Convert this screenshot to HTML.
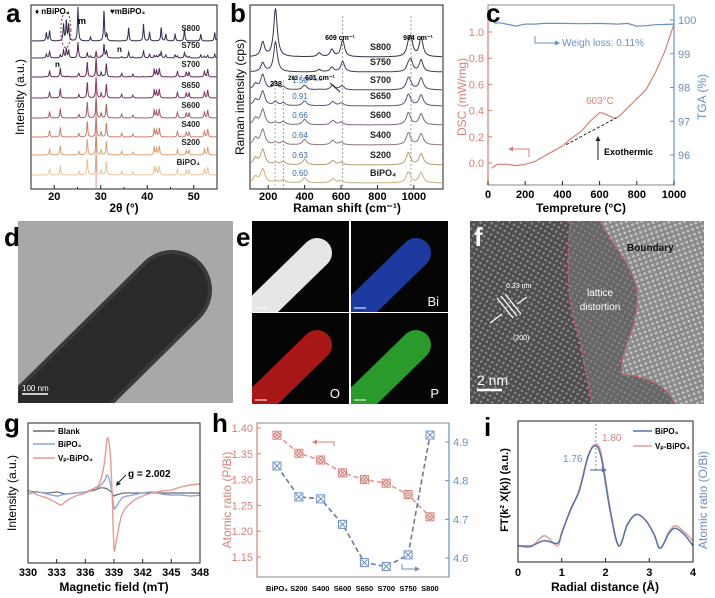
<!DOCTYPE html>
<html><head><meta charset="utf-8"><style>
html,body{margin:0;padding:0;background:#fff;}
svg{display:block;font-family:"Liberation Sans",sans-serif;}
</style></head><body>
<svg id="fig" width="715" height="598" viewBox="0 0 715 598" xmlns="http://www.w3.org/2000/svg">
<defs>
<pattern id="latA" width="5" height="5" patternUnits="userSpaceOnUse" patternTransform="rotate(30)"><rect width="5" height="5" fill="#4e4e4e"/><circle cx="2.5" cy="2.5" r="1.3" fill="#8a8a8a"/></pattern>
<pattern id="latB" width="5" height="5" patternUnits="userSpaceOnUse" patternTransform="rotate(30)"><rect width="5" height="5" fill="#666"/><circle cx="2.5" cy="2.5" r="1.2" fill="#858585"/></pattern>
<pattern id="latC" width="5" height="5" patternUnits="userSpaceOnUse" patternTransform="rotate(-20)"><rect width="5" height="5" fill="#8a8a8a"/><circle cx="2.5" cy="2.5" r="1.4" fill="#c4c4c4"/></pattern>
<clipPath id="clipD"><rect x="18" y="221" width="215" height="182"/></clipPath>
<clipPath id="clipF"><rect x="470" y="221" width="234" height="183"/></clipPath>
</defs>
<g id="root"></g>
</svg>
<script>
// ---------- DATA ----------
// panel a (XRD)
const xrdSamples = ["S800","S750","S700","S650","S600","S400","S200","BiPO₄"];
const xrdMonoPos = [19.0,21.3,25.3,27.1,29.0,30.1,31.2,34.5,36.9,41.5,42.0,42.6,46.5,48.4,49.0,52.3,53.0];
const xrdMonoH   = [0.30,0.45,0.18,0.80,1.00,0.25,0.70,0.20,0.15,0.40,0.35,0.45,0.30,0.25,0.25,0.30,0.40];
const xrdHexPos  = [18.3,19.0,22.0,22.6,23.1,25.1,27.8,30.7,31.3,36.0,39.2,40.5,43.0,44.0,46.0,48.0,51.5,54.5];
const xrdHexH    = [0.25,0.30,0.50,0.60,0.50,1.00,0.12,0.90,0.20,0.40,0.50,0.25,0.40,0.20,0.20,0.35,0.20,0.25];
const xrdHexFrac = [1.0,0.7,0.05,0,0,0,0,0];
const xrdScale   = [34,22,20,20,20,20,20,20];
// panel b (Raman)
const ramSamples = ["S800","S750","S700","S650","S600","S400","S200","BiPO₄"];
const ramRatios  = ["","","1.50","0.91","0.66","0.64","0.63","0.60"];
const ramMonoPos = [130,170,240,283,400,555,600,970,1040];
const ramMonoH   = [0.30,0.70,0.10,0.15,0.25,0.20,0.12,0.55,0.50];
const ramHexPos  = [170,240,480,550,609,970,984,1040];
const ramHexH    = [0.30,1.00,0.08,0.15,0.35,0.20,0.35,0.40];
const ramHexFrac = [1.0,1.0,0.25,0.1,0,0,0,0];
const ramScale   = [48,30,25,22,22,22,22,20];
// panel c (DSC/TGA)
const dscT   = [20,50,100,150,200,250,300,350,400,450,500,550,600,620,650,680,700,750,800,850,900,950,1000];
const dscVal = [-0.04,-0.01,-0.01,-0.02,-0.01,0.01,0.05,0.09,0.13,0.19,0.24,0.32,0.385,0.38,0.36,0.34,0.35,0.42,0.49,0.56,0.69,0.85,1.06];
const tgaT   = [20,40,60,100,150,200,250,300,400,500,600,700,750,800,850,900,1000];
const tgaVal = [100.0,99.9,99.92,99.88,99.82,99.88,99.88,99.9,99.9,99.89,99.9,99.88,99.9,99.82,99.83,99.86,99.88];
// panel g (EPR)
const eprB     = [330,331,332,333,333.5,334,335,336,337,337.5,338,338.3,338.6,338.8,339,339.2,339.6,340,341,342,343,344,345,346,347,348];
const eprVp    = [3,-2,-5,-10,-12,-8,-3,0,5,10,30,55,40,0,-55,-50,-30,-18,-8,-3,0,2,3,6,8,9];
const eprBi    = [-1,1,-1,-3,-2,-1,0,1,5,7,12,18,10,0,-15,-14,-8,-4,-2,0,1,-1,-2,-2,-3,-2];
const eprBlank = [2,1,0,1,0,-1,0,1,3,5,5,4,2,0,-3,-2,-1,0,0,0,0,0,0,0,0,0];
// panel h (atomic ratios)
const hCats  = ["BiPO₄","S200","S400","S600","S650","S700","S750","S800"];
const hPBi   = [1.386,1.351,1.338,1.313,1.300,1.293,1.271,1.228];
const hOBi   = [4.838,4.758,4.753,4.687,4.588,4.578,4.608,4.918];
const hLeftTicks  = [1.15,1.20,1.25,1.30,1.35,1.40];
const hRightTicks = [4.6,4.7,4.8,4.9];
// panel i (EXAFS)
const exR     = [0,0.3,0.6,0.9,1.0,1.2,1.4,1.6,1.76,1.9,2.1,2.3,2.5,2.7,2.9,3.1,3.25,3.45,3.6,3.8,4.0];
const exBi    = [0.05,0.05,0.09,0.07,0.15,0.34,0.49,0.76,0.85,0.76,0.34,0.05,0.22,0.30,0.26,0.15,0.03,0.15,0.19,0.14,0.05];
const exVp    = [0.05,0.04,0.13,0.05,0.16,0.33,0.50,0.77,0.86,0.79,0.36,0.05,0.22,0.30,0.26,0.15,0.03,0.16,0.21,0.16,0.09];

// ---------- HELPERS ----------
const NS="http://www.w3.org/2000/svg";
const root=document.getElementById('root');
function mk(tag,attrs,parent){const e=document.createElementNS(NS,tag);for(const k in attrs)e.setAttribute(k,attrs[k]);(parent||root).appendChild(e);return e;}
function txt(x,y,s,attrs,parent){const a=Object.assign({x:x,y:y},attrs||{});const e=mk('text',a,parent);e.textContent=s;return e;}
function lin(a,b,c,d){return v=>c+(v-a)*(d-c)/(b-a);}
function pathOf(xs,ys,fx,fy){return xs.map((x,i)=>(i?'L':'M')+fx(x).toFixed(1)+','+fy(ys[i]).toFixed(1)).join('');}
function smooth(xs,ys,fx,fy){const P=xs.map((x,i)=>[fx(x),fy(ys[i])]);let d='M'+P[0][0]+','+P[0][1];for(let i=0;i<P.length-1;i++){const p0=P[i-1]||P[i],p1=P[i],p2=P[i+1],p3=P[i+2]||P[i+1];d+='C'+(p1[0]+(p2[0]-p0[0])/6).toFixed(1)+','+(p1[1]+(p2[1]-p0[1])/6).toFixed(1)+' '+(p2[0]-(p3[0]-p1[0])/6).toFixed(1)+','+(p2[1]-(p3[1]-p1[1])/6).toFixed(1)+' '+p2[0].toFixed(1)+','+p2[1].toFixed(1);}return d;}
function lor(x,pos,h,w){let s=0;for(let i=0;i<pos.length;i++){const d=(x-pos[i])/w;s+=h[i]/(1+d*d);}return s;}
function panelLabel(x,y,s,name,fill){const t=txt(x,y,s,{'font-size':26,'font-weight':'bold',fill:fill||'#000'});return t;}

// ---------- PANEL A ----------
(function(){
const g=mk('g',{});
const fx=lin(15,55,31,217);
const base=[41,58,77,98,118,137,155,175];
const cols=["#2f2b4a","#4a2c52","#62285a","#7c3560","#a65a6e","#c9806e","#dea274","#ecc39a"];
for(let s=xrdSamples.length-1;s>=0;s--){
  const xs=[],ys=[];
  for(let x=15.2;x<=54.9;x+=0.06){const v=(1-xrdHexFrac[s])*lor(x,xrdMonoPos,xrdMonoH,0.12)+xrdHexFrac[s]*lor(x,xrdHexPos,xrdHexH,0.12);xs.push(x);ys.push(Math.min(v,1.9));}
  const p=mk('path',{d:pathOf(xs,ys,fx,v=>base[s]-v*xrdScale[s]),fill:'none',stroke:cols[s],'stroke-width':1},g);
  
  const l=txt(200,base[s]-10,xrdSamples[s],{'font-size':8,'font-weight':'bold','text-anchor':'end',fill:'#222'},g);
  
}
mk('line',{x1:fx(29),x2:fx(29),y1:50,y2:188,stroke:'#c0504d','stroke-width':1,opacity:0.6},g);
mk('ellipse',{cx:fx(22.5),cy:30,rx:5,ry:18,fill:'none',stroke:'#a03050','stroke-dasharray':'2,2','stroke-width':1},g);
txt(35,14,'♦ nBiPO₄',{'font-size':8,'font-weight':'bold'},g);
txt(110,14,'♥mBiPO₄',{'font-size':8,'font-weight':'bold'},g);
txt(78,24,'m',{'font-size':9,'font-weight':'bold'},g);
txt(117,52,'n',{'font-size':8,'font-weight':'bold'},g);
txt(55,67,'n',{'font-size':8,'font-weight':'bold'},g);
const fr=mk('rect',{x:31,y:5,width:186,height:184,fill:'none',stroke:'#222','stroke-width':1},g);
[20,30,40,50].forEach(t=>{mk('line',{x1:fx(t),x2:fx(t),y1:189,y2:185,stroke:'#222'},g);const tl=txt(fx(t),200,t,{'font-size':11,'font-weight':'bold','text-anchor':'middle'},g);});
[15,25,35,45,55].forEach(t=>mk('line',{x1:fx(t),x2:fx(t),y1:189,y2:187,stroke:'#222'},g));
const xt=txt(124,212,'2θ (°)',{'font-size':12,'font-weight':'bold','text-anchor':'middle'},g);
const yt=txt(0,0,'Intensity (a.u.)',{'font-size':12,'text-anchor':'middle',transform:'translate(24,97) rotate(-90)'},g);
panelLabel(6,22,'a','panel-label-a');
})();

// ---------- PANEL B ----------
(function(){
const g=mk('g',{});
const fx=lin(100,1160,250,443);
const base=[57,72,90,106,125,145,165,183];
const cols=["#34344a","#40405a","#4a4a66","#5a5878","#7a6a80","#8a7a78","#b0a070","#c8b080"];
[[238,'#7a9cc0'],[283,'#d07a50'],[609,'#888'],[984,'#888']].forEach(a=>mk('line',{x1:fx(a[0]),x2:fx(a[0]),y1:a[0]>500?16:80,y2:189,stroke:a[1],'stroke-dasharray':'2,2','stroke-width':0.8},g));
for(let s=0;s<ramSamples.length;s++){
  const xs=[],ys=[];
  for(let x=105;x<=1155;x+=3){const v=(1-ramHexFrac[s])*lor(x,ramMonoPos,ramMonoH,14)+ramHexFrac[s]*lor(x,ramHexPos,ramHexH,12);xs.push(x);ys.push(v);}
  const p=mk('path',{d:pathOf(xs,ys,fx,v=>base[s]-v*ramScale[s]),fill:'none',stroke:cols[s],'stroke-width':1},g);
  
  const l=txt(370,base[s]-7,ramSamples[s],{'font-size':9,'font-weight':'bold',fill:'#222'},g);
  
  if(ramRatios[s]){const r=txt(300,base[s]-7,ramRatios[s],{'font-size':8,fill:'#3a6aa8','text-anchor':'middle'},g);}
}
txt(340,40,'609 cm⁻¹',{'font-size':7,'font-weight':'bold','text-anchor':'middle'},g);
txt(418,40,'984 cm⁻¹',{'font-size':7,'font-weight':'bold','text-anchor':'middle'},g);
txt(276,86,'238',{'font-size':7,'font-weight':'bold','text-anchor':'middle'},g);
txt(293,80,'283',{'font-size':6,'font-weight':'bold','text-anchor':'middle'},g);
txt(300,80,'I₂₃₈/I₂₈₃',{'font-size':7,fill:'#3a6aa8','font-style':'italic'},g);
txt(320,80,'601 cm⁻¹',{'font-size':7,'font-weight':'bold','text-anchor':'middle'},g);
mk('line',{x1:330,y1:83,x2:340,y2:92,stroke:'#222'},g);
const fr=mk('rect',{x:250,y:5,width:193,height:184,fill:'none',stroke:'#222'},g);
[200,400,600,800,1000].forEach(t=>{mk('line',{x1:fx(t),x2:fx(t),y1:189,y2:185,stroke:'#222'},g);const tl=txt(fx(t),200,t,{'font-size':11,'font-weight':'bold','text-anchor':'middle'},g);});
const xt=txt(347,212,'Raman shift (cm⁻¹)',{'font-size':12,'font-weight':'bold','text-anchor':'middle'},g);
const yt=txt(0,0,'Raman intensity (cps)',{'font-size':12,'text-anchor':'middle',transform:'translate(244,97) rotate(-90)'},g);
panelLabel(230,22,'b','panel-label-b');
})();

// ---------- PANEL C ----------
(function(){
const g=mk('g',{});
const fx=lin(0,1000,488,674), fyL=lin(0,1,163,32), fyR=lin(96,100,155,20);
const red='#d4827a', blue='#6c8fc4';
const d1=mk('path',{d:pathOf(dscT,dscVal,fx,fyL),fill:'none',stroke:red,'stroke-width':1.2},g);
const d2=mk('path',{d:pathOf(tgaT,tgaVal,fx,fyR),fill:'none',stroke:blue,'stroke-width':1.2},g);
mk('line',{x1:fx(420),y1:fyL(0.14),x2:fx(690),y2:fyL(0.345),stroke:'#222','stroke-dasharray':'3,2'},g);
mk('path',{d:'M488,5 H674 V185 H488 Z',fill:'none',stroke:'#888'},g);
mk('line',{x1:488,y1:5,x2:488,y2:185,stroke:red,'stroke-width':1.2},g);
mk('line',{x1:674,y1:5,x2:674,y2:185,stroke:blue,'stroke-width':1.2},g);
[0,0.2,0.4,0.6,0.8,1.0].forEach(t=>{mk('line',{x1:488,x2:492,y1:fyL(t),y2:fyL(t),stroke:red},g);const tl=txt(484,fyL(t)+4,t.toFixed(1),{'font-size':11,fill:red,'text-anchor':'end'},g);});
[96,97,98,99,100].forEach(t=>{mk('line',{x1:670,x2:674,y1:fyR(t),y2:fyR(t),stroke:blue},g);const tl=txt(678,fyR(t)+4,t,{'font-size':11,fill:blue},g);});
[0,200,400,600,800,1000].forEach(t=>{mk('line',{x1:fx(t),x2:fx(t),y1:185,y2:181,stroke:'#222'},g);const tl=txt(fx(t),198,t,{'font-size':11,'font-weight':'bold','text-anchor':'middle'},g);});
const xt=txt(581,212,'Tempreture (°C)',{'font-size':12,'font-weight':'bold','text-anchor':'middle'},g);
const yl=txt(0,0,'DSC (mW/mg)',{'font-size':12,fill:red,'text-anchor':'middle',transform:'translate(466,97) rotate(-90)'},g);
const yr=txt(0,0,'TGA (%)',{'font-size':12,fill:blue,'text-anchor':'middle',transform:'translate(706,97) rotate(-90)'},g);
txt(562,46,'Weigh loss: 0.11%',{'font-size':10,fill:blue},g);
mk('path',{d:'M535,36 V43 H556',fill:'none',stroke:blue},g);mk('path',{d:'M560,43 l-5,-2.5 v5 z',fill:blue},g);
txt(586,104,'603°C',{'font-size':10,fill:red},g);
txt(604,155,'Exothermic',{'font-size':9,'font-weight':'bold'},g);
mk('line',{x1:598,y1:160,x2:598,y2:140,stroke:'#222'},g);mk('path',{d:'M598,136 l-2.5,5 h5 z',fill:'#222'},g);
mk('path',{d:'M529,157 V149 H512',fill:'none',stroke:red},g);mk('path',{d:'M508,149 l5,-2.5 v5 z',fill:red},g);
panelLabel(486,22,'c','panel-label-c');
})();

// ---------- PANEL D ----------
(function(){
const g=mk('g',{'clip-path':'url(#clipD)'});
mk('rect',{x:18,y:221,width:215,height:182,fill:'#a8a8a8'},g);
mk('line',{x1:10,y1:450,x2:172,y2:290,stroke:'#3a3a3a','stroke-width':80,'stroke-linecap':'round'},g);
mk('line',{x1:10,y1:450,x2:172,y2:290,stroke:'#2a2a2a','stroke-width':72,'stroke-linecap':'round'},g);
mk('line',{x1:22,y1:394,x2:48,y2:394,stroke:'#fff','stroke-width':1.5},g);
txt(22,391,'100 nm',{'font-size':8,fill:'#fff'},g);
panelLabel(4,246,'d','panel-label-d');
})();

// ---------- PANEL E ----------
(function(){
const g=mk('g',{});
const tiles=[[252,221,'#e6e6e6',''],[351,221,'#1c3aa0','Bi'],[252,313,'#a81818','O'],[351,313,'#2a9a2a','P']];
tiles.forEach((t,i)=>{
  const cp=mk('clipPath',{id:'ce'+i},document.querySelector('defs'));mk('rect',{x:t[0],y:t[1],width:97,height:91},cp);
  const tg=mk('g',{'clip-path':'url(#ce'+i+')'},g);
  mk('rect',{x:t[0],y:t[1],width:97,height:91,fill:'#050505'},tg);
  mk('line',{x1:t[0]-20,y1:t[1]+115,x2:t[0]+65,y2:t[1]+32,stroke:t[2],'stroke-width':30,'stroke-linecap':'round'},tg);
  if(t[3])txt(t[0]+88,t[1]+85,t[3],{'font-size':13,fill:'#fff','text-anchor':'end'},tg);
  mk('line',{x1:t[0]+3,y1:t[1]+87,x2:t[0]+15,y2:t[1]+87,stroke:'#fff'},tg);
});
panelLabel(236,246,'e','panel-label-e');
})();

// ---------- PANEL F ----------
(function(){
const g=mk('g',{'clip-path':'url(#clipF)'});
mk('rect',{x:470,y:221,width:234,height:183,fill:'url(#latA)'},g);
mk('path',{d:'M570,221 C568,260 565,300 580,340 C585,370 590,390 592,404 L704,404 V221 Z',fill:'url(#latB)'},g);
mk('path',{d:'M600,221 C615,250 630,260 637,290 C640,330 618,350 622,375 C650,375 670,390 675,404 L704,404 V221 Z',fill:'url(#latC)'},g);
mk('path',{d:'M570,221 C568,260 565,300 580,340 C585,370 590,390 592,404',fill:'none',stroke:'#d05a6a','stroke-dasharray':'3,1.5','stroke-width':1.4},g);
mk('path',{d:'M600,221 C615,250 630,260 637,290 C640,330 618,350 622,375 C650,375 670,390 675,404',fill:'none',stroke:'#d05a6a','stroke-dasharray':'3,1.5','stroke-width':1.4},g);
txt(627,251,'Boundary',{'font-size':10,'font-weight':'bold',fill:'#111'},g);
txt(600,296,'lattice',{'font-size':10,fill:'#fff','text-anchor':'middle'},g);
txt(600,310,'distortion',{'font-size':10,fill:'#fff','text-anchor':'middle'},g);
txt(506,288,'0.33 nm',{'font-size':7,fill:'#fff'},g);
txt(513,340,'(200)',{'font-size':7,fill:'#fff'},g);
mk('path',{d:'M497,298 L513,318 M501,296 L517,316 M505,294 L521,314 M490,323 L502,314 M527,297 L517,304',stroke:'#fff','stroke-width':1.2,fill:'none'},g);
txt(477,385,'2 nm',{'font-size':14,fill:'#fff'},g);
mk('line',{x1:477,y1:390,x2:502,y2:390,stroke:'#fff','stroke-width':2.5},g);
panelLabel(474,246,'f','panel-label-f','#fff');
})();

// ---------- PANEL G ----------
(function(){
const g=mk('g',{});
const fx=lin(330,348,28,200), fy=v=>493-v;
const c1=mk('path',{d:smooth(eprB,eprBlank,fx,fy),fill:'none',stroke:'#6a6a6a','stroke-width':1.2},g);
const c2=mk('path',{d:smooth(eprB,eprBi,fx,fy),fill:'none',stroke:'#8fa6d8','stroke-width':1.4},g);
const c3=mk('path',{d:smooth(eprB,eprVp,fx,fy),fill:'none',stroke:'#e49a96','stroke-width':1.4},g);
mk('rect',{x:28,y:423,width:172,height:140,fill:'none',stroke:'#222'},g);
[330,333,336,339,342,345,348].forEach(t=>{mk('line',{x1:fx(t),x2:fx(t),y1:563,y2:559,stroke:'#222'},g);const tl=txt(fx(t),576,t,{'font-size':11,'font-weight':'bold','text-anchor':'middle'},g);});
const xt=txt(114,591,'Magnetic field (mT)',{'font-size':12,'font-weight':'bold','text-anchor':'middle'},g);
const yt=txt(0,0,'Intensity (a.u.)',{'font-size':12,'text-anchor':'middle',transform:'translate(16,493) rotate(-90)'},g);
[['Blank','#6a6a6a',431],['BiPO₄','#8fa6d8',444],['Vₚ-BiPO₄','#e49a96',458]].forEach(l=>{mk('line',{x1:33,x2:55,y1:l[2],y2:l[2],stroke:l[1],'stroke-width':1.5},g);const e=txt(58,l[2]+3,l[0],{'font-size':8,'font-weight':'bold'},g);});
txt(128,477,'g = 2.002',{'font-size':10,'font-weight':'bold'},g);
mk('line',{x1:126,y1:475,x2:118,y2:483,stroke:'#222'},g);mk('path',{d:'M116,486 l1,-5 l4,3 z',fill:'#222'},g);
panelLabel(4,432,'g','panel-label-g');
})();

// ---------- PANEL H ----------
(function(){
const g=mk('g',{});
const fx=i=>277+i*21.85, fyL=lin(1.40,1.15,428,557), fyR=lin(4.9,4.6,442,558);
const red='#d4827a', blue='#6c8fc4';
const idx=hCats.map((c,i)=>i);
mk('path',{d:pathOf(idx,hPBi,fx,fyL),fill:'none',stroke:'#e09a90','stroke-width':1.6,'stroke-dasharray':'5,3'},g);
mk('path',{d:pathOf(idx,hOBi,fx,fyR),fill:'none',stroke:'#6a7a9a','stroke-width':1.6,'stroke-dasharray':'5,3'},g);
hPBi.forEach((v,i)=>{const x=fx(i),y=fyL(v);const m=mk('g',{},g);
 mk('rect',{x:x-4,y:y-4,width:8,height:8,fill:'#fff',stroke:red},m);mk('circle',{cx:x,cy:y,r:3,fill:'none',stroke:red},m);mk('path',{d:`M${x-2},${y-2}L${x+2},${y+2}M${x+2},${y-2}L${x-2},${y+2}`,stroke:red},m);});
hOBi.forEach((v,i)=>{const x=fx(i),y=fyR(v);const m=mk('g',{},g);
 mk('rect',{x:x-4,y:y-4,width:8,height:8,fill:'#fff',stroke:blue},m);mk('path',{d:`M${x-3},${y-3}L${x+3},${y+3}M${x+3},${y-3}L${x-3},${y+3}`,stroke:blue},m);});
mk('rect',{x:257,y:423,width:192,height:154,fill:'none',stroke:'#888'},g);
mk('line',{x1:257,x2:257,y1:423,y2:577,stroke:red,'stroke-width':1.2},g);
mk('line',{x1:449,x2:449,y1:423,y2:577,stroke:blue,'stroke-width':1.2},g);
hLeftTicks.forEach(t=>{mk('line',{x1:257,x2:261,y1:fyL(t),y2:fyL(t),stroke:red},g);const tl=txt(253,fyL(t)+4,t.toFixed(2),{'font-size':11,fill:red,'text-anchor':'end'},g);});
hRightTicks.forEach(t=>{mk('line',{x1:445,x2:449,y1:fyR(t),y2:fyR(t),stroke:blue},g);const tl=txt(453,fyR(t)+4,t.toFixed(1),{'font-size':11,fill:blue},g);});
hCats.forEach((c,i)=>{const tl=txt(fx(i),591,c,{'font-size':7.5,'font-weight':'bold','text-anchor':'middle'},g);});
const yl=txt(0,0,'Atomic ratio (P/Bi)',{'font-size':12,fill:red,'text-anchor':'middle',transform:'translate(231,500) rotate(-90)'},g);
const yr=txt(0,0,'Atomic ratio (O/Bi)',{'font-size':12,fill:blue,'text-anchor':'middle',transform:'translate(707,500) rotate(-90)'},g);
mk('path',{d:'M334,446 V442 H316',fill:'none',stroke:red},g);mk('path',{d:'M312,442 l5,-2.5 v5 z',fill:red},g);
mk('path',{d:'M402,564 V569 H416',fill:'none',stroke:blue},g);mk('path',{d:'M420,569 l-5,-2.5 v5 z',fill:blue},g);
panelLabel(212,432,'h','panel-label-h');
})();

// ---------- PANEL I ----------
(function(){
const g=mk('g',{});
const fx=lin(0,4,518,693), fy=lin(0,1,552,427);
const c1=mk('path',{d:smooth(exR,exVp,fx,fy),fill:'none',stroke:'#e0a0a0','stroke-width':1.5},g);
const c2=mk('path',{d:smooth(exR,exBi,fx,fy),fill:'none',stroke:'#5a72a8','stroke-width':1.5},g);
mk('line',{x1:fx(1.78),x2:fx(1.78),y1:424,y2:470,stroke:'#888','stroke-dasharray':'2,2'},g);
mk('line',{x1:590,x2:603,y1:470,y2:470,stroke:'#5a72a8','stroke-width':1.2},g);mk('path',{d:'M607,470 l-5,-2.5 v5 z',fill:'#5a72a8'},g);
txt(563,462,'1.76',{'font-size':10,fill:'#6c8fc4'},g);
txt(602,441,'1.80',{'font-size':10,fill:'#d4827a'},g);
mk('rect',{x:518,y:421,width:175,height:141,fill:'none',stroke:'#222'},g);
[0,1,2,3,4].forEach(t=>{mk('line',{x1:fx(t),x2:fx(t),y1:562,y2:558,stroke:'#222'},g);const tl=txt(fx(t),576,t,{'font-size':11,'font-weight':'bold','text-anchor':'middle'},g);});
const xt=txt(605,591,'Radial distance (Å)',{'font-size':12,'font-weight':'bold','text-anchor':'middle'},g);
const yt=txt(0,0,'FT(k² X(k)) (a.u.)',{'font-size':11,'font-weight':'bold','text-anchor':'middle',transform:'translate(508,490) rotate(-90)'},g);
[['BiPO₄','#5a72a8',431],['Vₚ-BiPO₄','#e0a0a0',446]].forEach(l=>{mk('line',{x1:633,x2:652,y1:l[2],y2:l[2],stroke:l[1],'stroke-width':1.5},g);const e=txt(655,l[2]+3,l[0],{'font-size':8,'font-weight':'bold'},g);});
panelLabel(484,436,'i','panel-label-i');
})();
</script>
</body></html>
